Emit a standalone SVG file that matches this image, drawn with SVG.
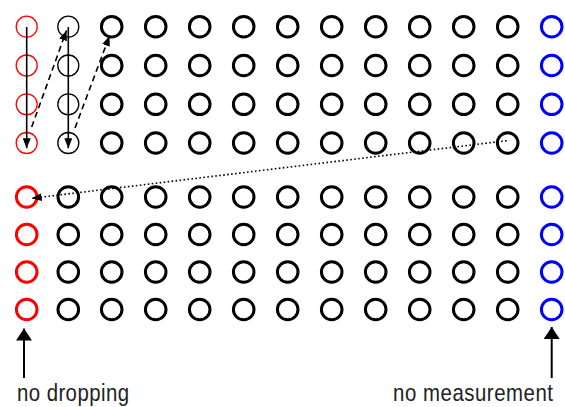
<svg xmlns="http://www.w3.org/2000/svg" width="565" height="407" viewBox="0 0 565 407">
<style>
circle{fill:none}
.k{stroke:#000;stroke-width:3}
.kt{stroke:#000;stroke-width:1.3}
.r{stroke:#ff0000;stroke-width:3}
.rt{stroke:#ff0000;stroke-width:1.3}
.b{stroke:#0000ff;stroke-width:3}
.solid{stroke:#000;stroke-width:1.6;fill:none;marker-end:url(#hs)}
.dash{stroke:#000;stroke-width:1.6;fill:none;stroke-dasharray:6 4;marker-end:url(#hs)}
.dot{stroke:#000;stroke-width:1.6;fill:none;stroke-dasharray:1.6 2.4;marker-end:url(#hs)}
.big{stroke:#000;stroke-width:2;fill:none;marker-end:url(#hb)}
text{font-family:"Liberation Sans",Arial,sans-serif;font-size:24px;fill:#222}
</style>
<defs>
<marker id="hs" viewBox="0 0 10 8" refX="10" refY="4" markerWidth="10" markerHeight="8" markerUnits="userSpaceOnUse" orient="auto"><path d="M0,0 L10,4 L0,8 Z" fill="#000"/></marker>
<marker id="hb" viewBox="0 0 12 16" refX="12" refY="8" markerWidth="12" markerHeight="16" markerUnits="userSpaceOnUse" orient="auto"><path d="M0,0 L12,8 L0,16 Z" fill="#000"/></marker>
</defs>
<g id="nodes">
<g id="n0-0"><circle class="rt" cx="26.7" cy="26.7" r="10.5"/></g>
<g id="n1-0"><circle class="rt" cx="26.7" cy="65.5" r="10.5"/></g>
<g id="n2-0"><circle class="rt" cx="26.7" cy="104.3" r="10.5"/></g>
<g id="n3-0"><circle class="rt" cx="26.7" cy="143" r="10.5"/></g>
<g id="n4-0"><circle class="r" cx="26.7" cy="197" r="10.3"/></g>
<g id="n5-0"><circle class="r" cx="26.7" cy="234.5" r="10.3"/></g>
<g id="n6-0"><circle class="r" cx="26.7" cy="272" r="10.3"/></g>
<g id="n7-0"><circle class="r" cx="26.7" cy="309.5" r="10.3"/></g>
<g id="n0-1"><circle class="kt" cx="68.3" cy="26.7" r="10.5"/></g>
<g id="n1-1"><circle class="kt" cx="68.3" cy="65.5" r="10.5"/></g>
<g id="n2-1"><circle class="kt" cx="68.3" cy="104.3" r="10.5"/></g>
<g id="n3-1"><circle class="kt" cx="68.3" cy="143" r="10.5"/></g>
<g id="n4-1"><circle class="k" cx="68.3" cy="197" r="10.3"/></g>
<g id="n5-1"><circle class="k" cx="68.3" cy="234.5" r="10.3"/></g>
<g id="n6-1"><circle class="k" cx="68.3" cy="272" r="10.3"/></g>
<g id="n7-1"><circle class="k" cx="68.3" cy="309.5" r="10.3"/></g>
<g id="n0-2"><circle class="k" cx="111.7" cy="26.7" r="10.3"/></g>
<g id="n1-2"><circle class="k" cx="111.7" cy="65.5" r="10.3"/></g>
<g id="n2-2"><circle class="k" cx="111.7" cy="104.3" r="10.3"/></g>
<g id="n3-2"><circle class="k" cx="111.7" cy="143" r="10.3"/></g>
<g id="n4-2"><circle class="k" cx="111.7" cy="197" r="10.3"/></g>
<g id="n5-2"><circle class="k" cx="111.7" cy="234.5" r="10.3"/></g>
<g id="n6-2"><circle class="k" cx="111.7" cy="272" r="10.3"/></g>
<g id="n7-2"><circle class="k" cx="111.7" cy="309.5" r="10.3"/></g>
<g id="n0-3"><circle class="k" cx="155.7" cy="26.7" r="10.3"/></g>
<g id="n1-3"><circle class="k" cx="155.7" cy="65.5" r="10.3"/></g>
<g id="n2-3"><circle class="k" cx="155.7" cy="104.3" r="10.3"/></g>
<g id="n3-3"><circle class="k" cx="155.7" cy="143" r="10.3"/></g>
<g id="n4-3"><circle class="k" cx="155.7" cy="197" r="10.3"/></g>
<g id="n5-3"><circle class="k" cx="155.7" cy="234.5" r="10.3"/></g>
<g id="n6-3"><circle class="k" cx="155.7" cy="272" r="10.3"/></g>
<g id="n7-3"><circle class="k" cx="155.7" cy="309.5" r="10.3"/></g>
<g id="n0-4"><circle class="k" cx="199.7" cy="26.7" r="10.3"/></g>
<g id="n1-4"><circle class="k" cx="199.7" cy="65.5" r="10.3"/></g>
<g id="n2-4"><circle class="k" cx="199.7" cy="104.3" r="10.3"/></g>
<g id="n3-4"><circle class="k" cx="199.7" cy="143" r="10.3"/></g>
<g id="n4-4"><circle class="k" cx="199.7" cy="197" r="10.3"/></g>
<g id="n5-4"><circle class="k" cx="199.7" cy="234.5" r="10.3"/></g>
<g id="n6-4"><circle class="k" cx="199.7" cy="272" r="10.3"/></g>
<g id="n7-4"><circle class="k" cx="199.7" cy="309.5" r="10.3"/></g>
<g id="n0-5"><circle class="k" cx="243.7" cy="26.7" r="10.3"/></g>
<g id="n1-5"><circle class="k" cx="243.7" cy="65.5" r="10.3"/></g>
<g id="n2-5"><circle class="k" cx="243.7" cy="104.3" r="10.3"/></g>
<g id="n3-5"><circle class="k" cx="243.7" cy="143" r="10.3"/></g>
<g id="n4-5"><circle class="k" cx="243.7" cy="197" r="10.3"/></g>
<g id="n5-5"><circle class="k" cx="243.7" cy="234.5" r="10.3"/></g>
<g id="n6-5"><circle class="k" cx="243.7" cy="272" r="10.3"/></g>
<g id="n7-5"><circle class="k" cx="243.7" cy="309.5" r="10.3"/></g>
<g id="n0-6"><circle class="k" cx="287.7" cy="26.7" r="10.3"/></g>
<g id="n1-6"><circle class="k" cx="287.7" cy="65.5" r="10.3"/></g>
<g id="n2-6"><circle class="k" cx="287.7" cy="104.3" r="10.3"/></g>
<g id="n3-6"><circle class="k" cx="287.7" cy="143" r="10.3"/></g>
<g id="n4-6"><circle class="k" cx="287.7" cy="197" r="10.3"/></g>
<g id="n5-6"><circle class="k" cx="287.7" cy="234.5" r="10.3"/></g>
<g id="n6-6"><circle class="k" cx="287.7" cy="272" r="10.3"/></g>
<g id="n7-6"><circle class="k" cx="287.7" cy="309.5" r="10.3"/></g>
<g id="n0-7"><circle class="k" cx="331.7" cy="26.7" r="10.3"/></g>
<g id="n1-7"><circle class="k" cx="331.7" cy="65.5" r="10.3"/></g>
<g id="n2-7"><circle class="k" cx="331.7" cy="104.3" r="10.3"/></g>
<g id="n3-7"><circle class="k" cx="331.7" cy="143" r="10.3"/></g>
<g id="n4-7"><circle class="k" cx="331.7" cy="197" r="10.3"/></g>
<g id="n5-7"><circle class="k" cx="331.7" cy="234.5" r="10.3"/></g>
<g id="n6-7"><circle class="k" cx="331.7" cy="272" r="10.3"/></g>
<g id="n7-7"><circle class="k" cx="331.7" cy="309.5" r="10.3"/></g>
<g id="n0-8"><circle class="k" cx="375.7" cy="26.7" r="10.3"/></g>
<g id="n1-8"><circle class="k" cx="375.7" cy="65.5" r="10.3"/></g>
<g id="n2-8"><circle class="k" cx="375.7" cy="104.3" r="10.3"/></g>
<g id="n3-8"><circle class="k" cx="375.7" cy="143" r="10.3"/></g>
<g id="n4-8"><circle class="k" cx="375.7" cy="197" r="10.3"/></g>
<g id="n5-8"><circle class="k" cx="375.7" cy="234.5" r="10.3"/></g>
<g id="n6-8"><circle class="k" cx="375.7" cy="272" r="10.3"/></g>
<g id="n7-8"><circle class="k" cx="375.7" cy="309.5" r="10.3"/></g>
<g id="n0-9"><circle class="k" cx="419.7" cy="26.7" r="10.3"/></g>
<g id="n1-9"><circle class="k" cx="419.7" cy="65.5" r="10.3"/></g>
<g id="n2-9"><circle class="k" cx="419.7" cy="104.3" r="10.3"/></g>
<g id="n3-9"><circle class="k" cx="419.7" cy="143" r="10.3"/></g>
<g id="n4-9"><circle class="k" cx="419.7" cy="197" r="10.3"/></g>
<g id="n5-9"><circle class="k" cx="419.7" cy="234.5" r="10.3"/></g>
<g id="n6-9"><circle class="k" cx="419.7" cy="272" r="10.3"/></g>
<g id="n7-9"><circle class="k" cx="419.7" cy="309.5" r="10.3"/></g>
<g id="n0-10"><circle class="k" cx="463.7" cy="26.7" r="10.3"/></g>
<g id="n1-10"><circle class="k" cx="463.7" cy="65.5" r="10.3"/></g>
<g id="n2-10"><circle class="k" cx="463.7" cy="104.3" r="10.3"/></g>
<g id="n3-10"><circle class="k" cx="463.7" cy="143" r="10.3"/></g>
<g id="n4-10"><circle class="k" cx="463.7" cy="197" r="10.3"/></g>
<g id="n5-10"><circle class="k" cx="463.7" cy="234.5" r="10.3"/></g>
<g id="n6-10"><circle class="k" cx="463.7" cy="272" r="10.3"/></g>
<g id="n7-10"><circle class="k" cx="463.7" cy="309.5" r="10.3"/></g>
<g id="n0-11"><circle class="k" cx="507.7" cy="26.7" r="10.3"/></g>
<g id="n1-11"><circle class="k" cx="507.7" cy="65.5" r="10.3"/></g>
<g id="n2-11"><circle class="k" cx="507.7" cy="104.3" r="10.3"/></g>
<g id="n3-11"><circle class="k" cx="507.7" cy="143" r="10.3"/></g>
<g id="n4-11"><circle class="k" cx="507.7" cy="197" r="10.3"/></g>
<g id="n5-11"><circle class="k" cx="507.7" cy="234.5" r="10.3"/></g>
<g id="n6-11"><circle class="k" cx="507.7" cy="272" r="10.3"/></g>
<g id="n7-11"><circle class="k" cx="507.7" cy="309.5" r="10.3"/></g>
<g id="n0-12"><circle class="b" cx="551.7" cy="26.7" r="10.3"/></g>
<g id="n1-12"><circle class="b" cx="551.7" cy="65.5" r="10.3"/></g>
<g id="n2-12"><circle class="b" cx="551.7" cy="104.3" r="10.3"/></g>
<g id="n3-12"><circle class="b" cx="551.7" cy="143" r="10.3"/></g>
<g id="n4-12"><circle class="b" cx="551.7" cy="197" r="10.3"/></g>
<g id="n5-12"><circle class="b" cx="551.7" cy="234.5" r="10.3"/></g>
<g id="n6-12"><circle class="b" cx="551.7" cy="272" r="10.3"/></g>
<g id="n7-12"><circle class="b" cx="551.7" cy="309.5" r="10.3"/></g>
</g>
<g id="connectors">
<line class="solid" x1="26.7" y1="27" x2="26.7" y2="148.3"/>
<line class="solid" x1="68.3" y1="27" x2="68.3" y2="148.3"/>
<line class="dash" x1="31.7" y1="127" x2="66.5" y2="30.5"/>
<line class="dash" x1="75" y1="128" x2="109.5" y2="36"/>
<line class="dot" x1="506.7" y1="140.7" x2="31.7" y2="198.3"/>
<line class="big" x1="24" y1="378" x2="24" y2="328.5"/>
<line class="big" x1="551.7" y1="378" x2="551.7" y2="327"/>
</g>
<g id="labels">
<text transform="scale(0.85,1)" x="20" y="401" textLength="131.8" lengthAdjust="spacing">no dropping</text>
<text transform="scale(0.85,1)" x="462.4" y="401" textLength="188.2" lengthAdjust="spacing">no measurement</text>
</g>
</svg>
